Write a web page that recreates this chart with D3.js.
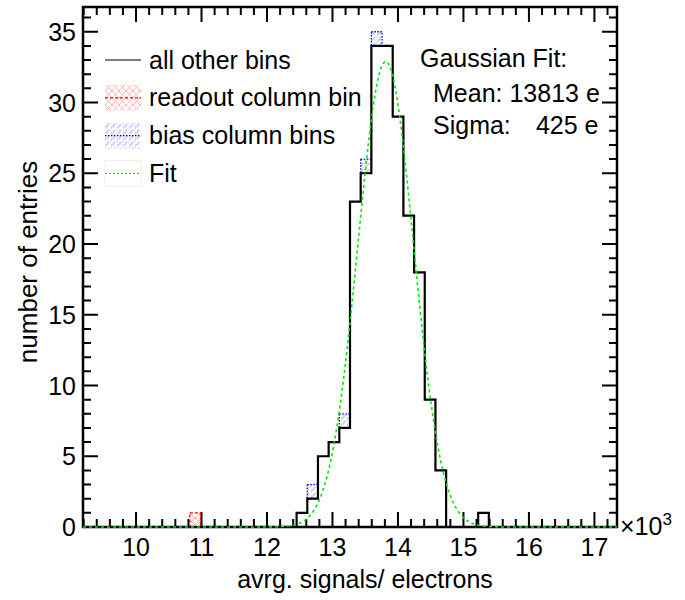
<!DOCTYPE html>
<html>
<head>
<meta charset="utf-8">
<script src="https://cdn.jsdelivr.net/npm/d3@7"></script>
<style>
  body { margin: 0; background: #fff; }
  svg { font-family: "Liberation Sans", Arial, sans-serif; }
</style>
</head>
<body>
<script>
// histogram binning (x in units of 10^3 electrons)
const xRange = [9.19, 17.345];
const nBins = 50;

// bin contents, index 0..49
const otherBins = [
  0, 0, 0, 0, 0, 0, 0, 0, 0, 0,
  0, 0, 0, 0, 0, 0, 0, 0, 0, 0,
  1, 2, 5, 6, 7, 23, 25, 34, 34, 29,
  22, 18, 9, 4, 0, 0, 0, 1, 0, 0,
  0, 0, 0, 0, 0, 0, 0, 0, 0, 0
];
const readoutBins = [
  0, 0, 0, 0, 0, 0, 0, 0, 0, 0,
  1, 0, 0, 0, 0, 0, 0, 0, 0, 0,
  0, 0, 0, 0, 0, 0, 0, 0, 0, 0,
  0, 0, 0, 0, 0, 0, 0, 0, 0, 0,
  0, 0, 0, 0, 0, 0, 0, 0, 0, 0
];
const biasBins = [
  0, 0, 0, 0, 0, 0, 0, 0, 0, 0,
  0, 0, 0, 0, 0, 0, 0, 0, 0, 0,
  0, 1, 0, 0, 1, 0, 1, 1, 0, 0,
  0, 0, 0, 0, 0, 0, 0, 0, 0, 0,
  0, 0, 0, 0, 0, 0, 0, 0, 0, 0
];

// gaussian fit parameters
const fitMean = 13.813;
const fitSigma = 0.425;
const fitAmp = 32.9;

const xTicks = [10, 11, 12, 13, 14, 15, 16, 17];
const yTicks = [0, 5, 10, 15, 20, 25, 30, 35];
const yMax = 36.75;

const legendItems = ["all other bins", "readout column bin", "bias column bins", "Fit"];

const fullWidth = 685, fullHeight = 600;
const margin = { top: 7, right: 68, bottom: 73, left: 83 };
const width = fullWidth - margin.left - margin.right;
const height = fullHeight - margin.top - margin.bottom;
const fontSize = 25;

const svgRoot = d3.select("body").append("svg")
  .attr("width", fullWidth)
  .attr("height", fullHeight);

// fill patterns
const defs = svgRoot.append("defs");
defs.append("pattern")
  .attr("id", "redHatch")
  .attr("patternUnits", "userSpaceOnUse")
  .attr("width", 7).attr("height", 7)
  .append("path")
  .attr("d", "M0,0 L7,7 M7,0 L0,7")
  .attr("stroke", "#ff9c9c").attr("stroke-width", 0.8).attr("fill", "none");
defs.append("pattern")
  .attr("id", "blueHatch")
  .attr("patternUnits", "userSpaceOnUse")
  .attr("width", 6).attr("height", 6)
  .append("path")
  .attr("d", "M0,6 L0,3 L3,3 L3,0 L6,0")
  .attr("stroke", "#9a9aff").attr("stroke-width", 0.8).attr("fill", "none");

const svg = svgRoot.append("g")
  .attr("transform", `translate(${margin.left},${margin.top})`);

const x = d3.scaleLinear().domain(xRange).range([0, width]);
const y = d3.scaleLinear().domain([0, yMax]).range([height, 0]);

const binW = (xRange[1] - xRange[0]) / nBins;
const edge = i => xRange[0] + i * binW;

// ticks (ROOT style, pointing inward on all four sides), drawn as one path
const majorLen = 15, minorLen = 8;
const xMinor = d3.range(9.2, 17.35, 0.2).filter(v => Math.abs(v - Math.round(v)) > 0.01);
const yMinor = d3.range(1, 37, 1).filter(v => v % 5 !== 0);
const xTickList = xTicks.map(v => [v, majorLen]).concat(xMinor.map(v => [v, minorLen]));
const yTickList = yTicks.map(v => [v, majorLen]).concat(yMinor.map(v => [v, minorLen]));

const tickPath = d3.path();
xTickList.forEach(([v, len]) => {
  const px = x(v);
  tickPath.moveTo(px, height); tickPath.lineTo(px, height - len);
  tickPath.moveTo(px, 0); tickPath.lineTo(px, len);
});
yTickList.forEach(([v, len]) => {
  const py = y(v);
  tickPath.moveTo(0, py); tickPath.lineTo(len, py);
  tickPath.moveTo(width, py); tickPath.lineTo(width - len, py);
});
svg.append("path")
  .attr("d", tickPath.toString())
  .attr("fill", "none")
  .attr("stroke", "#000")
  .attr("stroke-width", 2);

// tick labels
svg.append("g")
  .selectAll("text")
  .data(xTicks)
  .join("text")
  .attr("x", d => x(d))
  .attr("y", height + 29)
  .attr("text-anchor", "middle")
  .attr("font-size", fontSize)
  .text(d => d);
svg.append("g")
  .selectAll("text")
  .data(yTicks)
  .join("text")
  .attr("x", -7)
  .attr("y", d => y(d) + 9)
  .attr("text-anchor", "end")
  .attr("font-size", fontSize)
  .text(d => d);

// frame
svg.append("rect")
  .attr("width", width).attr("height", height)
  .attr("fill", "none").attr("stroke", "#000").attr("stroke-width", 2.5);

// x10^3 label
const expo = svg.append("text")
  .attr("x", width + 3).attr("y", height + 8)
  .attr("font-size", fontSize);
expo.append("tspan").text("\u00d710");
expo.append("tspan").attr("font-size", 17).attr("dy", -10).text("3");

// axis titles
svg.append("text")
  .attr("x", 282).attr("y", height + 61)
  .attr("text-anchor", "middle")
  .attr("font-size", fontSize)
  .text("avrg. signals/ electrons");
svg.append("text")
  .attr("transform", `translate(${-46},${255}) rotate(-90)`)
  .attr("text-anchor", "middle")
  .attr("font-size", 26)
  .text("number of entries");

// stacked bins: readout and bias on top of the other bins
const stackRects = (vals, fillId, stroke, dash) => {
  svg.append("g")
    .selectAll("rect")
    .data(vals.map((v, i) => ({ i, v, base: otherBins[i] })).filter(d => d.v > 0))
    .join("rect")
    .attr("x", d => x(edge(d.i)))
    .attr("width", d => x(edge(d.i + 1)) - x(edge(d.i)))
    .attr("y", d => y(d.base + d.v))
    .attr("height", d => y(d.base) - y(d.base + d.v))
    .attr("fill", `url(#${fillId})`)
    .attr("stroke", stroke)
    .attr("stroke-width", 1.3)
    .attr("stroke-dasharray", dash);
};
stackRects(readoutBins, "redHatch", "#ff0000", "3,2");
stackRects(biasBins, "blueHatch", "#0000ff", "1.5,1.5");

// outline of all other bins
const stepPts = otherBins.map((v, i) => [edge(i), v]);
stepPts.unshift([xRange[0], 0]);
stepPts.push([xRange[1], otherBins[nBins - 1]]);
svg.append("path")
  .datum(stepPts)
  .attr("fill", "none")
  .attr("stroke", "#000")
  .attr("stroke-width", 2.2)
  .attr("d", d3.line().x(d => x(d[0])).y(d => y(d[1])).curve(d3.curveStepAfter));

// gaussian fit
const fitPts = d3.range(xRange[0], xRange[1] + 1e-9, binW / 8)
  .map(v => [v, fitAmp * Math.exp(-0.5 * ((v - fitMean) / fitSigma) ** 2)]);
svg.append("path")
  .datum(fitPts)
  .attr("fill", "none")
  .attr("stroke", "#00e600")
  .attr("stroke-width", 1.6)
  .attr("stroke-dasharray", "3,3")
  .attr("d", d3.line().x(d => x(d[0])).y(d => y(d[1])));

// legend
const legend = svg.append("g").attr("transform", `translate(22,${53})`);
const rowH = 37.8;
legendItems.forEach((name, i) => {
  const row = legend.append("g").attr("transform", `translate(0,${i * rowH})`);
  if (i === 0) {
    row.append("line").attr("x1", 0).attr("x2", 36).attr("stroke", "#000").attr("stroke-width", 1.2);
  } else if (i === 1) {
    row.append("rect").attr("y", -13).attr("width", 36).attr("height", 26).attr("fill", "url(#redHatch)");
    row.append("line").attr("x1", 0).attr("x2", 36).attr("stroke", "#ff0000").attr("stroke-width", 1.2).attr("stroke-dasharray", "3,2");
  } else if (i === 2) {
    row.append("rect").attr("y", -13).attr("width", 36).attr("height", 26).attr("fill", "url(#blueHatch)");
    row.append("line").attr("x1", 0).attr("x2", 36).attr("stroke", "#0000ff").attr("stroke-width", 1.2).attr("stroke-dasharray", "1.5,1.5");
  } else {
    row.append("rect").attr("y", -13).attr("width", 36).attr("height", 26).attr("fill", "none").attr("stroke", "#eee");
    row.append("line").attr("x1", 0).attr("x2", 36).attr("stroke", "#00e600").attr("stroke-width", 1.2).attr("stroke-dasharray", "2,2");
  }
  row.append("text")
    .attr("x", 44).attr("y", 8.5)
    .attr("font-size", fontSize)
    .text(name);
});

// fit results
const stats = svg.append("g").attr("font-size", fontSize);
stats.append("text").attr("x", 337).attr("y", 60).text("Gaussian Fit:");
stats.append("text").attr("x", 350).attr("y", 95).text(`Mean: ${Math.round(fitMean * 1000)} e`);
stats.append("text").attr("x", 350).attr("y", 127).text("Sigma:");
stats.append("text").attr("x", 515.5).attr("y", 127).attr("text-anchor", "end")
  .text(`${Math.round(fitSigma * 1000)} e`);
</script>
</body>
</html>
